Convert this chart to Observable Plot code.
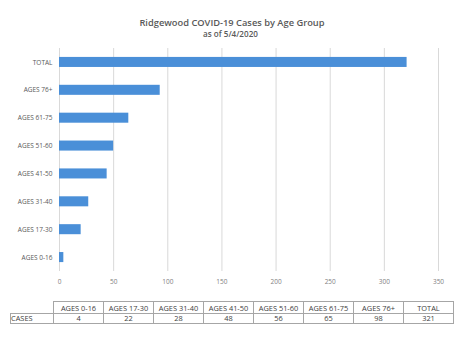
<!DOCTYPE html>
<html>
<head>
<meta charset="utf-8">
<script src="https://cdn.jsdelivr.net/npm/d3@7"></script>
<script src="https://cdn.jsdelivr.net/npm/@observablehq/plot@0.6"></script>
<style>
  body { margin: 0; background: #fff; font-family: "Open Sans", sans-serif; }
  #wrap { position: relative; width: 474px; height: 354px; }
  #title { position: absolute; top: 17px; left: 0; width: 464px; text-align: center; color: #595959;
           font-weight: 600; font-size: 9.3px; line-height: 11px; }
  #sub { position: absolute; top: 28.5px; left: 0; width: 461px; text-align: center; color: #595959;
         font-weight: 600; font-size: 8.1px; line-height: 10px; }
  #chart { position: absolute; top: 40px; left: 0; }
  table { position: absolute; top: 301px; left: 10px; border-collapse: collapse; font-size: 7.4px; color: #404040; }
  td, th { border: 1px solid #a6a6a6; padding: 0; font-weight: 400; text-align: center; width: 49px; }
  th { height: 11px; }
  td { height: 9px; line-height: 9px; }
  th.blank { border-top: none; border-left: none; width: 42px; }
  td.rowlab { text-align: left; width: 42px; }
</style>
</head>
<body>
<div id="wrap">
  <div id="title">Ridgewood COVID-19 Cases by Age Group</div>
  <div id="sub">as of 5/4/2020</div>
  <div id="chart"></div>
  <table id="tbl"></table>
</div>
<script>
// Bar categories (top to bottom) and bar lengths as drawn
const categories = ["TOTAL", "AGES 76+", "AGES 61-75", "AGES 51-60", "AGES 41-50", "AGES 31-40", "AGES 17-30", "AGES 0-16"];
const barValues = [321, 93, 64, 50, 44, 27, 20, 4];
// Table below the chart
const tableHeaders = ["AGES 0-16", "AGES 17-30", "AGES 31-40", "AGES 41-50", "AGES 51-60", "AGES 61-75", "AGES 76+", "TOTAL"];
const tableCases = [4, 22, 28, 48, 56, 65, 98, 321];
const xTicks = [0, 50, 100, 150, 200, 250, 300, 350];

const data = categories.map((c, i) => ({category: c, value: barValues[i]}));

const chart = Plot.plot({
  width: 474,
  height: 250,
  marginTop: 8,
  marginBottom: 19,
  marginLeft: 59,
  marginRight: 36,
  style: {fontFamily: "Open Sans, sans-serif", background: "#fff"},
  x: {domain: [0, 350], ticks: xTicks, label: null},
  y: {domain: categories, label: null, paddingInner: 0.64, paddingOuter: 0.32, round: false},
  marks: [
    Plot.gridX(xTicks, {stroke: "#d9d9d9", strokeOpacity: 1, strokeWidth: 1}),
    Plot.barX(data, {x: "value", y: "category", fill: "#4a8fd8"}),
    Plot.axisX({ticks: xTicks, tickSize: 0, tickPadding: 8, fontSize: 6.5, fill: "#7f7f7f", label: null}),
    Plot.axisY({tickSize: 0, tickPadding: 7, fontSize: 6.5, fill: "#595959", label: null})
  ]
});
document.getElementById("chart").appendChild(chart);

// Build table
const tbl = d3.select("#tbl");
const hr = tbl.append("tr");
hr.append("th").attr("class", "blank");
tableHeaders.forEach(h => hr.append("th").text(h));
const dr = tbl.append("tr");
dr.append("td").attr("class", "rowlab").text("CASES");
tableCases.forEach(v => dr.append("td").text(v));
</script>
</body>
</html>
